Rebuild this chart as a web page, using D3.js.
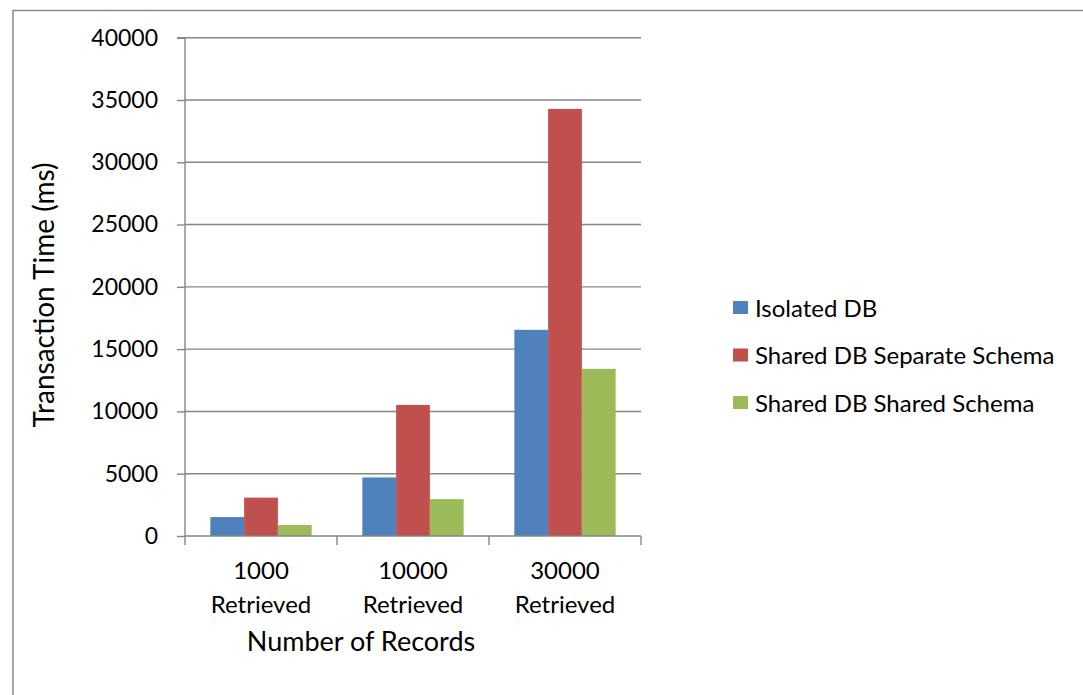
<!DOCTYPE html>
<html>
<head>
<meta charset="utf-8">
<script src="https://cdn.jsdelivr.net/npm/d3@7"></script>
<style>
  html, body { margin: 0; padding: 0; background: #fff; }
  svg { display: block; }
  text { font-family: Lato, "Open Sans", sans-serif; fill: #000; }
</style>
</head>
<body>
<svg id="chart" width="1083" height="695"></svg>
<script>
const categoriesLine1 = ["1000", "10000", "30000"];
const categoriesLine2 = ["Retrieved", "Retrieved", "Retrieved"];
const seriesNames = ["Isolated DB", "Shared DB Separate Schema", "Shared DB Shared Schema"];
const isolatedDB = [1520, 4700, 16550];
const sharedSeparate = [3080, 10520, 34280];
const sharedShared = [880, 2960, 13420];
const yTicks = [0, 5000, 10000, 15000, 20000, 25000, 30000, 35000, 40000];
const colors = ["#4F81BD", "#C0504D", "#9BBB59"];

const series = [isolatedDB, sharedSeparate, sharedShared];
const svg = d3.select("#chart");

// outer border
svg.append("rect").attr("x", 13).attr("y", 10.5).attr("width", 1100).attr("height", 720)
  .attr("fill", "none").attr("stroke", "#898989").attr("stroke-width", 1.5);

const plot = { left: 185, right: 641, top: 37.7, bottom: 536 };
const y = d3.scaleLinear().domain([0, 40000]).range([plot.bottom, plot.top]);
const x0 = d3.scaleBand().domain(d3.range(categoriesLine1.length)).range([plot.left, plot.right]).paddingInner(0).paddingOuter(0);
const gapFrac = 0.75 / 4.5;
const x1 = d3.scaleBand().domain(d3.range(series.length))
  .range([x0.bandwidth() * gapFrac, x0.bandwidth() * (1 - gapFrac)]).padding(0);

const gridColor = "#868686";

// gridlines
svg.append("g").selectAll("line").data(yTicks.filter(d => d > 0)).join("line")
  .attr("x1", plot.left).attr("x2", plot.right)
  .attr("y1", d => y(d)).attr("y2", d => y(d))
  .attr("stroke", gridColor).attr("stroke-width", 1.4);

// bars
const groups = svg.append("g").selectAll("g").data(categoriesLine1.map((c, i) => i)).join("g")
  .attr("transform", i => `translate(${x0(i)},0)`);
groups.selectAll("rect").data(i => series.map((s, j) => ({ j, v: s[i] }))).join("rect")
  .attr("x", d => x1(d.j)).attr("width", x1.bandwidth())
  .attr("y", d => y(d.v)).attr("height", d => y(0) - y(d.v))
  .attr("fill", d => colors[d.j]);

// y axis
const yAxis = d3.axisLeft(y).tickValues(yTicks).tickSize(8).tickPadding(19).tickFormat(d3.format("d"));
const gy = svg.append("g").attr("transform", `translate(${plot.left},0)`).call(yAxis);
gy.select(".domain").attr("stroke", gridColor).attr("stroke-width", 1.4).attr("d", `M-8,${plot.top}H0V${plot.bottom}`);
gy.selectAll(".tick line").attr("stroke", gridColor).attr("stroke-width", 1.4);
gy.selectAll(".tick text").attr("font-size", 23).attr("font-family", "Lato").attr("fill", "#000");

// x axis
const boundaries = d3.range(categoriesLine1.length + 1).map(i => plot.left + i * x0.step());
svg.append("line").attr("x1", plot.left).attr("x2", plot.right)
  .attr("y1", plot.bottom).attr("y2", plot.bottom).attr("stroke", gridColor).attr("stroke-width", 1.4);
svg.append("g").selectAll("line").data(boundaries).join("line")
  .attr("x1", d => d).attr("x2", d => d).attr("y1", plot.bottom).attr("y2", plot.bottom + 9)
  .attr("stroke", gridColor).attr("stroke-width", 1.4);

const xl = svg.append("g").selectAll("text").data(categoriesLine1.map((c, i) => i)).join("text")
  .attr("text-anchor", "middle").attr("font-size", 24)
  .attr("x", i => x0(i) + x0.bandwidth() / 2);
xl.append("tspan").attr("y", 579).attr("x", i => x0(i) + x0.bandwidth() / 2).text(i => categoriesLine1[i]);
xl.append("tspan").attr("y", 613).attr("x", i => x0(i) + x0.bandwidth() / 2).text(i => categoriesLine2[i]);

// axis titles
svg.append("text").attr("x", 361).attr("y", 651).attr("text-anchor", "middle").attr("font-size", 27)
  .text("Number of Records");
svg.append("text").attr("transform", "translate(54,295) rotate(-90)").attr("text-anchor", "middle")
  .attr("font-size", 28).text("Transaction Time (ms)");

// legend
const lg = svg.append("g").selectAll("g").data(seriesNames).join("g")
  .attr("transform", (d, i) => `translate(733,${308 + i * 47.5})`);
lg.append("rect").attr("x", 0).attr("y", -7).attr("width", 15).attr("height", 13).attr("fill", (d, i) => colors[i]);
lg.append("text").attr("x", 22).attr("y", 8.5).attr("font-size", 24).text(d => d);
</script>
</body>
</html>
